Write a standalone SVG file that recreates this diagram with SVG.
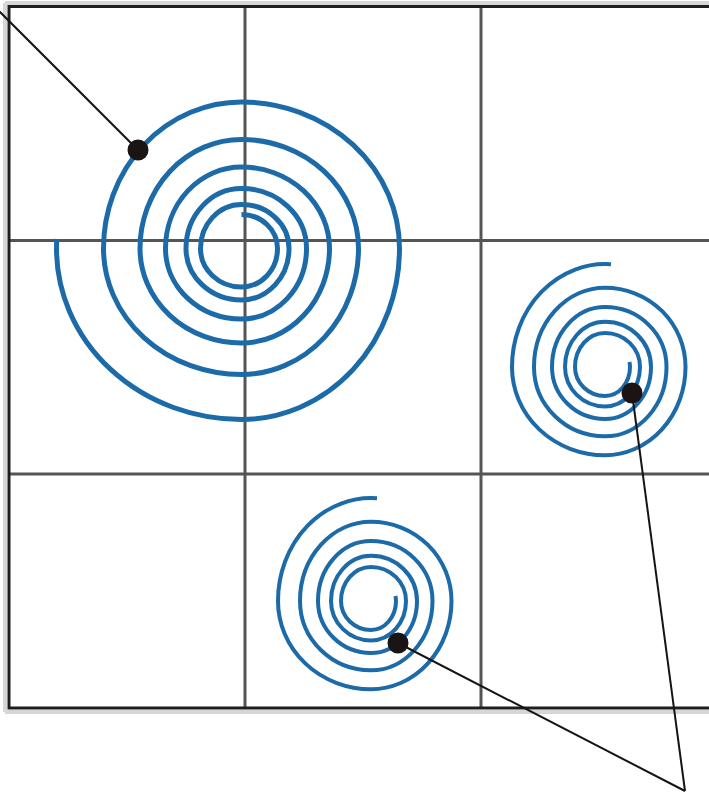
<svg xmlns="http://www.w3.org/2000/svg" xmlns:xlink="http://www.w3.org/1999/xlink" width="709" height="795" viewBox="0 0 709 795">
  <style>
    .halo { stroke: #d6d6d6; stroke-width: 4; fill: none; }
    .border { stroke: #1e1e1e; stroke-width: 3; fill: none; }
    .gridline { stroke: #555555; stroke-width: 3; fill: none; }
    .spiral { stroke: #1c6ba8; fill: none; stroke-linecap: butt; }
    .big { stroke-width: 5; }
    .small { stroke-width: 4; }
    .leader { stroke: #141414; stroke-width: 2; fill: none; }
    .dot { fill: #1a1414; }
  </style>
  <defs>
    <path id="small-spiral" d="M611,264.3 A93 102.9 0 0 0 512,367 A93 88.2 0 0 0 605,455.2 A80.5 88.2 0 0 0 685.5,367 A80.5 79.3 0 0 0 605,287.7 A71 79.3 0 0 0 534,367 A71 69.3 0 0 0 605,436.3 A61.5 69.3 0 0 0 666.5,367 A61.5 59.9 0 0 0 605,307.1 A53 59.9 0 0 0 552,367 A53 52 0 0 0 605,419 A46 52 0 0 0 651,367 A46 45.2 0 0 0 605,321.8 A40 45.2 0 0 0 565,367 A40 39.4 0 0 0 605,406.4 A35 39.4 0 0 0 640,367 A35 34.1 0 0 0 605,332.9 A30 34.1 0 0 0 575,367 A30 28.9 0 0 0 605,395.9 A25 28.9 0 0 0 630,367 A25 23.6 0 0 0 629.4,362"/>
  </defs>
  <rect width="709" height="795" fill="#ffffff"/>

  <g id="grid">
    <path class="halo" d="M5,3 H709 M5,3 V712 M5,712 H709"/>
    <path class="gridline" d="M245,6 V708 M481,6 V708 M9,240.5 H709 M9,474 H709"/>
    <path class="border" d="M9,6.5 H709 M9,5 V709.5 M9,708 H709"/>
  </g>

  <g id="spiral-large">
    <path class="spiral big" d="M241.5,214.5 A36 34 0 0 1 277.5,248.5 A36 38.5 0 0 1 241.5,287 A41 38.5 0 0 1 200.5,248.5 A41 44 0 0 1 241.5,204.5 A47.5 44 0 0 1 289,248.5 A47.5 51.5 0 0 1 241.5,300 A55.5 51.5 0 0 1 186,248.5 A55.5 60 0 0 1 241.5,188.5 A65 60 0 0 1 306.5,248.5 A65 70.5 0 0 1 241.5,319 A76 70.5 0 0 1 165.5,248.5 A76 81.5 0 0 1 241.5,167 A88 81.5 0 0 1 329.5,248.5 A88 94.5 0 0 1 241.5,343 A101.5 94.5 0 0 1 140,248.5 A101.5 109 0 0 1 241.5,139.5 A117 109 0 0 1 358.5,248.5 A117 126 0 0 1 241.5,374.5 A138 126 0 0 1 103.5,248.5 A138 146.5 0 0 1 241.5,102 A158 146.5 0 0 1 399.5,248.5 A158 171 0 0 1 241.5,419.5 A185 171 0 0 1 56.5,248.5 A185 190 0 0 1 56.8,239"/>
  </g>

  <g id="spiral-right">
    <use class="spiral small" href="#small-spiral" xlink:href="#small-spiral"/>
  </g>

  <g id="spiral-bottom">
    <use class="spiral small" href="#small-spiral" xlink:href="#small-spiral" transform="translate(-234,234)"/>
  </g>

  <g id="connectors">
    <line class="leader" x1="-2" y1="10" x2="138" y2="150"/>
    <line class="leader" x1="632" y1="393" x2="685" y2="791"/>
    <line class="leader" x1="398" y1="643" x2="685" y2="791"/>
    <circle class="dot" cx="138" cy="150" r="10.5"/>
    <circle class="dot" cx="632" cy="393" r="10.5"/>
    <circle class="dot" cx="398" cy="643" r="10.5"/>
  </g>
</svg>
